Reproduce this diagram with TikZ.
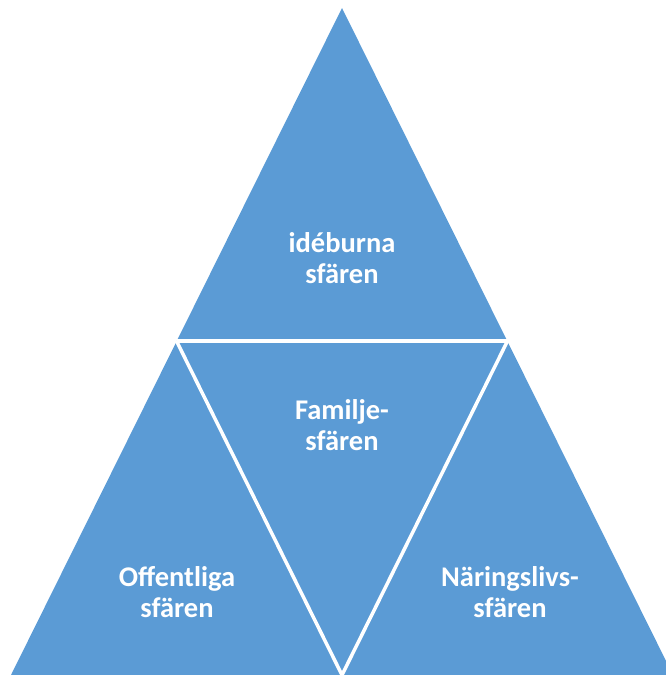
\documentclass[tikz,border=0pt]{standalone}
\usepackage{fontspec}
\setmainfont{Carlito}
\usetikzlibrary{calc}
\definecolor{sfblue}{HTML}{5B9BD5}
\begin{document}
\begin{tikzpicture}[x=1pt,y=-1pt,
  sep/.style={draw=white,line width=3.5pt},
  lbl/.style={text=white,font=\bfseries\fontsize{28.5}{31}\selectfont,align=center,inner sep=0pt}]
\useasboundingbox (0,0) rectangle (666,675);
\begin{scope}
\clip (0,0) rectangle (666,675);
\coordinate (A) at (342,8);
\coordinate (B) at (176.5,341);
\coordinate (C) at (507.5,341);
\coordinate (D) at (11,675);
\coordinate (E) at (342,675);
\coordinate (F) at (673,675);
\fill[sfblue] (A) -- (F) -- (D) -- cycle;
\draw[sep] (B) -- (C);
\draw[sep] (B) -- ($(B)!1.03!(E)$);
\draw[sep] (C) -- ($(C)!1.03!(E)$);
\end{scope}
\node[lbl] (top) at (342,258) {idéburna\\sfären};
\node[lbl] (mid) at (342,425) {Familje-\\sfären};
\node[lbl] (left) at (177,592) {Offentliga\\sfären};
\node[lbl] (right) at (510,592) {Näringslivs-\\sfären};
\end{tikzpicture}
\end{document}
